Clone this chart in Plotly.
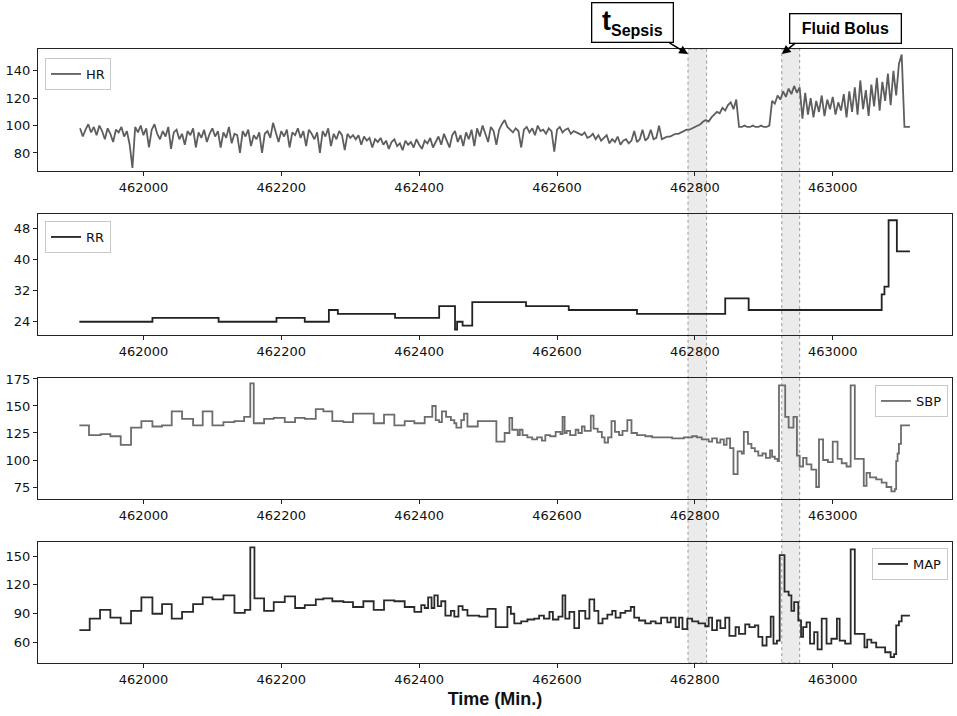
import plotly.graph_objects as go

# ---------------- data ----------------
HR_START = 461908
HR_STEP = 4
HR = [
    98, 92, 97, 101, 95, 99, 93, 100, 96, 90,
    98, 94, 88, 97, 95, 99, 92, 96, 86, 69,
    99, 95, 100, 93, 98, 84, 97, 101, 94, 90,
    96, 92, 99, 83, 95, 97, 90, 94, 86, 96,
    93, 98, 84, 95, 91, 97, 88, 94, 98, 92,
    96, 84, 95, 91, 99, 87, 94, 93, 80, 96,
    92, 97, 85, 93, 90, 95, 80, 94, 96, 91,
    102, 95, 88, 96, 92, 97, 84, 95, 93, 98,
    91, 96, 85, 97, 94, 90, 95, 80, 96, 92,
    98, 85, 94, 90, 96, 93, 82, 94, 91, 93,
    90, 93, 86, 92, 89, 91, 84, 90, 88, 91,
    86, 89, 83, 88, 90, 85, 87, 82, 89, 86,
    88, 84, 90, 86, 83, 89, 87, 91, 84, 88,
    92, 86, 94, 89, 84, 93, 96, 88, 93, 85,
    95, 90, 97, 85, 98, 92, 100, 94, 88, 99,
    96, 86, 97, 101, 104, 99, 97, 95, 98, 96,
    84, 97, 99, 95, 98, 93, 100, 96, 97, 94,
    98, 96, 81, 97, 99, 95, 97, 98, 94, 96,
    95, 94, 93, 95, 91, 92, 94, 90, 93, 89,
    91, 93, 87, 90, 88, 92, 86, 89, 90, 87,
    89, 96, 88, 90, 97, 89, 91, 97, 90, 91,
    100, 90, 91, 92, 92, 93, 94, 94, 95, 96,
    97, 97, 98, 99, 100, 101, 103, 104, 103, 106,
    108, 110, 109, 113, 111, 115, 117, 112, 119, 99,
    99, 100, 99, 99, 100, 99, 99, 100, 99, 99,
    100, 118, 116, 122, 119, 125, 121, 127, 123, 129,
    124, 128, 105, 124, 108, 120, 106, 118, 110, 122,
    107, 119, 112, 121, 108, 117, 111, 123, 106, 125,
    110, 128, 108, 133, 112, 126, 107, 130, 114, 135,
    111, 132, 118, 138, 115, 140, 122, 145, 152, 99,
    99, 99,
]
HR_TIME = [HR_START + HR_STEP * i for i in range(len(HR))]

RR_TIME = [461907, 462013, 462109, 462193, 462234, 462269, 462282, 462365, 462429,
           462452, 462455, 462463, 462477, 462555, 462617, 462716, 462844, 462878,
           463071, 463075, 463081, 463093, 463112]
RR = [24, 25, 24, 25, 24, 27, 26, 25, 28,
      22, 24, 23, 29, 28, 27, 26, 30, 27,
      31, 33, 50, 42, 42]

SBP_TIME = [461907, 461921, 461938, 461952, 461967, 461982, 461997, 462013, 462027, 462041,
            462056, 462072, 462086, 462100, 462116, 462132, 462146, 462155, 462160, 462175,
            462189, 462205, 462220, 462234, 462250, 462261, 462274, 462290, 462304, 462334,
            462349, 462364, 462379, 462393, 462408, 462419, 462424, 462429, 462433, 462439,
            462446, 462451, 462454, 462461, 462465, 462470, 462485, 462512, 462524, 462531,
            462535, 462543, 462546, 462550, 462557, 462564, 462571, 462578, 462583, 462590,
            462598, 462605, 462608, 462611, 462614, 462619, 462627, 462631, 462636, 462640,
            462649, 462653, 462659, 462665, 462669, 462674, 462679, 462684, 462690, 462695,
            462702, 462708, 462716, 462728, 462738, 462747, 462757, 462767, 462776, 462784,
            462796, 462803, 462810, 462820, 462825, 462832, 462837, 462842, 462846, 462851,
            462856, 462862, 462868, 462871, 462877, 462882, 462887, 462892, 462898, 462903,
            462909, 462912, 462916, 462920, 462922, 462931, 462936, 462943, 462948, 462952,
            462957, 462962, 462969, 462976, 462980, 462986, 462993, 463000, 463007, 463013,
            463020, 463026, 463032, 463045, 463049, 463054, 463063, 463071, 463078, 463085,
            463090, 463092, 463094, 463096, 463099, 463112]
SBP = [132, 123, 124, 122, 114, 130, 136, 131, 132, 145,
       138, 132, 145, 132, 135, 136, 140, 171, 134, 138,
       139, 135, 139, 138, 147, 145, 136, 135, 143, 134,
       142, 132, 136, 134, 140, 150, 137, 135, 145, 140,
       137, 134, 130, 137, 143, 131, 136, 117, 125, 139,
       128, 123, 128, 123, 121, 119, 121, 118, 123, 122,
       126, 124, 140, 125, 127, 123, 128, 125, 131, 127,
       141, 129, 126, 121, 116, 121, 136, 126, 123, 127,
       137, 125, 123, 122, 121, 121, 121, 120, 120, 121,
       122, 121, 119, 117, 120, 116, 119, 114, 120, 111,
       87, 108, 106, 126, 115, 111, 108, 104, 106, 102,
       109, 103, 101, 99, 169, 140, 130, 140, 104, 94,
       102, 96, 91, 75, 119, 100, 98, 117, 101, 97,
       94, 169, 101, 76, 88, 84, 82, 79, 75, 71,
       73, 99, 106, 115, 132, 132]

MAP_TIME = [461907, 461922, 461937, 461952, 461967, 461982, 461997, 462013, 462027, 462041,
            462056, 462072, 462086, 462100, 462116, 462132, 462147, 462155, 462161, 462175,
            462189, 462205, 462220, 462234, 462250, 462261, 462274, 462290, 462304, 462319,
            462334, 462349, 462364, 462379, 462393, 462403, 462408, 462413, 462418, 462422,
            462427, 462432, 462438, 462446, 462451, 462457, 462463, 462470, 462487, 462499,
            462511, 462528, 462533, 462538, 462548, 462557, 462567, 462574, 462581, 462589,
            462594, 462602, 462608, 462612, 462618, 462625, 462632, 462641, 462647, 462654,
            462660, 462666, 462673, 462680, 462685, 462692, 462699, 462707, 462712, 462719,
            462728, 462736, 462743, 462751, 462760, 462765, 462772, 462777, 462782, 462789,
            462796, 462805, 462815, 462820, 462825, 462832, 462837, 462844, 462850, 462859,
            462864, 462873, 462879, 462887, 462892, 462898, 462904, 462910, 462914, 462919,
            462923, 462930, 462936, 462940, 462944, 462950, 462954, 462957, 462962, 462967,
            462973, 462978, 462984, 462991, 462998, 463006, 463010, 463018, 463026, 463032,
            463046, 463050, 463056, 463063, 463070, 463076, 463084, 463089, 463092, 463096,
            463100, 463112]
MAP = [73, 85, 94, 86, 80, 93, 107, 90, 100, 85,
       92, 100, 107, 105, 109, 91, 94, 159, 106, 93,
       102, 108, 96, 99, 105, 106, 103, 102, 97, 103,
       94, 104, 103, 97, 92, 99, 96, 107, 96, 109,
       98, 103, 88, 93, 87, 98, 94, 88, 87, 95,
       76, 97, 90, 80, 82, 84, 85, 88, 85, 92,
       84, 87, 109, 85, 92, 75, 93, 85, 105, 93,
       80, 85, 89, 93, 86, 91, 93, 97, 86, 83,
       80, 82, 80, 86, 81, 86, 76, 86, 74, 85,
       82, 80, 77, 86, 73, 83, 75, 86, 67, 76,
       69, 79, 76, 78, 66, 57, 66, 87, 59, 62,
       151, 113, 109, 93, 102, 83, 66, 76, 81, 59,
       71, 53, 85, 59, 64, 85, 62, 59, 157, 69,
       55, 63, 60, 55, 55, 50, 45, 48, 78, 82,
       88, 88]

SEPSIS_WINDOW = [462790, 462817]
BOLUS_WINDOW = [462926, 462952]
X_TICKS = [462000, 462200, 462400, 462600, 462800, 463000]
HR_TICKS = [80, 100, 120, 140]
RR_TICKS = [24, 32, 40, 48]
SBP_TICKS = [75, 100, 125, 150, 175]
MAP_TICKS = [60, 90, 120, 150]

# ---------------- figure ----------------
W, H = 957, 716
ML, MR, MT, MB = 38, 5, 49, 53
TICKFONT = dict(family="DejaVu Sans", size=13, color="#111111")

fig = go.Figure()
series = [
    ("HR", HR_TIME, HR, "#5e5e5e", "linear", "x", "y", "legend"),
    ("RR", RR_TIME, RR, "#222222", "hv", "x2", "y2", "legend2"),
    ("SBP", SBP_TIME, SBP, "#6c6c6c", "hv", "x3", "y3", "legend3"),
    ("MAP", MAP_TIME, MAP, "#2a2a2a", "hv", "x4", "y4", "legend4"),
]
for name, t, v, col, shape, xa, ya, lg in series:
    fig.add_trace(go.Scatter(x=t, y=v, mode="lines", name=name,
                             line=dict(color=col, width=1.8, shape=shape),
                             xaxis=xa, yaxis=ya, legend=lg, showlegend=True))

plot_h = H - MT - MB
def py(pix):
    return 1 - (pix - MT) / plot_h

domains = [(py(171), 1.0), (py(335), py(214)), (py(499), py(378)), (0.0, py(541.7))]
yranges = [[66.8, 156], [20.6, 51.6], [63.9, 175.9], [38.8, 164.9]]
yticks = [HR_TICKS, RR_TICKS, SBP_TICKS, MAP_TICKS]

axis_common = dict(showline=True, linecolor="#222222", linewidth=1.3, mirror=True,
                   ticks="outside", ticklen=4, tickcolor="#222222", tickwidth=1.1,
                   showgrid=False, zeroline=False, tickfont=TICKFONT)
for i in range(4):
    sx = "" if i == 0 else str(i + 1)
    fig.layout["xaxis" + sx] = dict(axis_common, domain=[0, 1], range=[461847, 463173],
                                    tickvals=X_TICKS, tickformat="d", anchor="y" + sx)
    fig.layout["yaxis" + sx] = dict(axis_common, domain=list(domains[i]), range=yranges[i],
                                    tickvals=yticks[i], anchor="x" + sx)
fig.layout.xaxis4.title = dict(text="<b>Time (Min.)</b>",
                               font=dict(family="Liberation Sans", size=18, color="#111111"),
                               standoff=6)

# shaded windows spanning all panels
for x0, x1 in (SEPSIS_WINDOW, BOLUS_WINDOW):
    fig.add_shape(type="rect", xref="x", yref="paper", x0=x0, x1=x1, y0=0, y1=1,
                  fillcolor="rgba(205,205,205,0.4)", line=dict(color="#9a9a9a", width=1, dash="dot"),
                  layer="below")

def px_x(p):
    return (p - ML) / (W - ML - MR)

# annotation boxes
fig.add_annotation(xref="paper", yref="paper", x=px_x(632.5), y=py(23), showarrow=False,
                   text="<b>t</b><sub><b><span style='font-size:16px'>Sepsis</span></b></sub>",
                   font=dict(family="Liberation Sans", size=27, color="#000000"),
                   bgcolor="white", bordercolor="#000000", borderwidth=1.3, borderpad=0,
                   width=80, height=38, xanchor="center", yanchor="middle")
fig.add_annotation(xref="paper", yref="paper", x=px_x(845), y=py(28.5), showarrow=False,
                   text="<b>Fluid Bolus</b>",
                   font=dict(family="Liberation Sans", size=16, color="#000000"),
                   bgcolor="white", bordercolor="#000000", borderwidth=1.3, borderpad=0,
                   width=110, height=28, xanchor="center", yanchor="middle")
# arrows
fig.add_annotation(xref="x", yref="paper", x=SEPSIS_WINDOW[0], y=py(54), text="",
                   showarrow=True, ax=-20, ay=-12, arrowhead=2, arrowsize=1.1,
                   arrowwidth=1.6, arrowcolor="#000000", standoff=0)
fig.add_annotation(xref="x", yref="paper", x=BOLUS_WINDOW[0], y=py(54), text="",
                   showarrow=True, ax=15, ay=-12, arrowhead=2, arrowsize=1.1,
                   arrowwidth=1.6, arrowcolor="#000000", standoff=0)

legend_style = dict(bgcolor="white", bordercolor="#c8c8c8", borderwidth=1,
                    font=dict(family="DejaVu Sans", size=13, color="#111111"),
                    itemwidth=30, tracegroupgap=0)
fig.update_layout(
    width=W, height=H, margin=dict(l=ML, r=MR, t=MT, b=MB),
    paper_bgcolor="white", plot_bgcolor="rgba(0,0,0,0)",
    legend=dict(legend_style, x=px_x(45), y=py(58), xanchor="left", yanchor="top"),
    legend2=dict(legend_style, x=px_x(45), y=py(221), xanchor="left", yanchor="top"),
    legend3=dict(legend_style, x=px_x(948), y=py(385), xanchor="right", yanchor="top"),
    legend4=dict(legend_style, x=px_x(948), y=py(548), xanchor="right", yanchor="top"),
)

fig.write_html("out.html", config={"displayModeBar": False},
               post_script="document.body.style.margin='0';document.body.style.padding='0';")
